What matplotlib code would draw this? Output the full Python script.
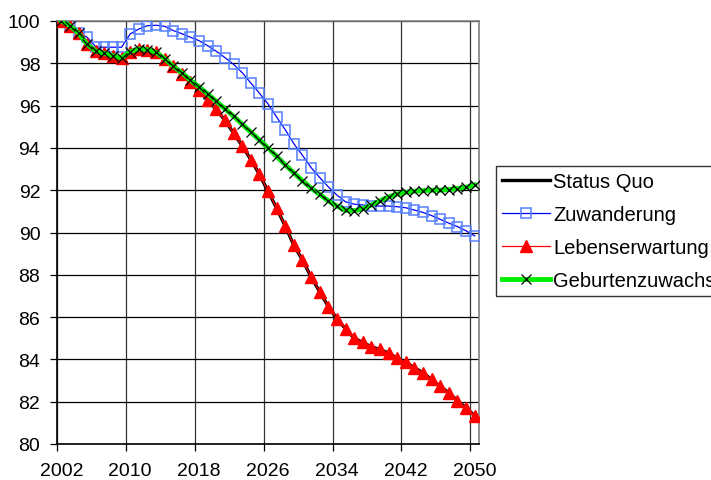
import matplotlib
matplotlib.use("Agg")
import matplotlib.pyplot as plt
import numpy as np

plt.rcParams['font.family'] = ['Liberation Sans', 'DejaVu Sans']

years = list(range(2002, 2051))

status_quo = [100.0, 99.78, 99.42, 98.9, 98.58, 98.47, 98.36, 98.25, 98.55, 98.68,
              98.65, 98.52, 98.22, 97.85, 97.5, 97.1, 96.72, 96.25, 95.82, 95.3,
              94.7, 94.1, 93.45, 92.75, 91.95, 91.15, 90.3, 89.4, 88.7, 87.9,
              87.2, 86.5, 85.93, 85.44, 85.0, 84.8, 84.6, 84.47, 84.3, 84.05,
              83.87, 83.6, 83.37, 83.05, 82.72, 82.42, 82.05, 81.72, 81.33]

zuwanderung = [100.0, 99.75, 99.45, 99.23, 98.78, 98.76, 98.76, 98.76, 99.39, 99.62,
               99.78, 99.8, 99.75, 99.55, 99.4, 99.23, 99.07, 98.83, 98.57, 98.27,
               97.95, 97.56, 97.07, 96.59, 96.08, 95.46, 94.86, 94.2, 93.65, 93.07,
               92.6, 92.16, 91.77, 91.45, 91.34, 91.3, 91.25, 91.25, 91.25, 91.22,
               91.17, 91.06, 90.95, 90.8, 90.62, 90.44, 90.28, 90.08, 89.84]

lebenserwartung = [100.0, 99.78, 99.42, 98.9, 98.58, 98.47, 98.36, 98.25, 98.55, 98.68,
                   98.65, 98.52, 98.22, 97.85, 97.5, 97.1, 96.72, 96.25, 95.82, 95.3,
                   94.7, 94.1, 93.45, 92.75, 91.95, 91.15, 90.3, 89.4, 88.7, 87.9,
                   87.2, 86.5, 85.93, 85.44, 85.0, 84.8, 84.6, 84.47, 84.3, 84.05,
                   83.87, 83.6, 83.37, 83.05, 82.72, 82.42, 82.05, 81.72, 81.33]

geburtenzuwachs = [100.0, 99.78, 99.42, 98.9, 98.58, 98.47, 98.36, 98.25, 98.55, 98.68,
                   98.65, 98.52, 98.22, 97.86, 97.55, 97.2, 96.88, 96.55, 96.2, 95.85,
                   95.5, 95.12, 94.75, 94.38, 94.0, 93.6, 93.2, 92.82, 92.45, 92.1,
                   91.8, 91.5, 91.25, 91.05, 91.03, 91.12, 91.3, 91.5, 91.68, 91.82,
                   91.9, 91.95, 91.98, 92.0, 92.0, 92.03, 92.08, 92.14, 92.25]

series_names = ["Status Quo", "Zuwanderung", "Lebenserwartung", "Geburtenzuwachs"]
label_years = [2002, 2010, 2018, 2026, 2034, 2042, 2050]
y_ticks = [80, 82, 84, 86, 88, 90, 92, 94, 96, 98, 100]

fig = plt.figure(figsize=(7.11, 4.81), dpi=100)
ax = fig.add_axes([57/711, 1-445/481, (479-57)/711, (445-22)/481])

ax.plot(years, status_quo, color='black', lw=2.4, label=series_names[0], zorder=3)
ax.plot(years, zuwanderung, color='#0000ff', lw=0.9, marker='s', markersize=7,
        markerfacecolor='none', markeredgecolor='#5580ff', markeredgewidth=1.1,
        label=series_names[1], zorder=4)
ax.plot(years, lebenserwartung, color='#ff0000', lw=0.9, marker='^', markersize=8,
        markerfacecolor='#ff0000', markeredgecolor='#ff0000', label=series_names[2], zorder=5)
ax.plot(years, geburtenzuwachs, color='#00ee00', lw=3.5, marker='x', markersize=7.5,
        markeredgecolor='black', markeredgewidth=0.9, label=series_names[3], zorder=6)

ax.set_xlim(years[0] - 0.5, years[-1] + 0.5)
ax.set_ylim(80, 100)

# category boundaries as major ticks, labels centred on categories
ax.set_xticks([y - 0.5 for y in label_years])
ax.set_xticklabels([])
ax.set_xticks(label_years, minor=True)
ax.set_xticklabels([str(y) for y in label_years], minor=True, fontsize=14)
ax.tick_params(axis='x', which='major', direction='out', length=5, width=0.9, color='black')
ax.tick_params(axis='x', which='minor', length=0, pad=13)
ax.set_yticks(y_ticks)
ax.set_yticklabels([str(v) for v in y_ticks], fontsize=14)
ax.tick_params(axis='y', direction='out', length=5, width=0.9, pad=7)

ax.grid(True, which='major', axis='y', color='black', lw=0.9)
ax.grid(True, which='major', axis='x', color='#333333', lw=0.9)
ax.set_axisbelow(True)

ax.spines['left'].set_color('black')
ax.spines['bottom'].set_color('black')
ax.spines['top'].set_color('#808080')
ax.spines['right'].set_color('#808080')
for s in ax.spines.values():
    s.set_linewidth(1.2)

leg = fig.legend(loc='upper left', bbox_to_anchor=(496/711, 1-167/481), fontsize=14.5,
                 frameon=True, fancybox=False, edgecolor='black', borderpad=0.3,
                 labelspacing=0.7, handlelength=2.4, handletextpad=0.15,
                 borderaxespad=0)
leg.get_frame().set_linewidth(1.0)

fig.savefig('out.png', dpi=100)
